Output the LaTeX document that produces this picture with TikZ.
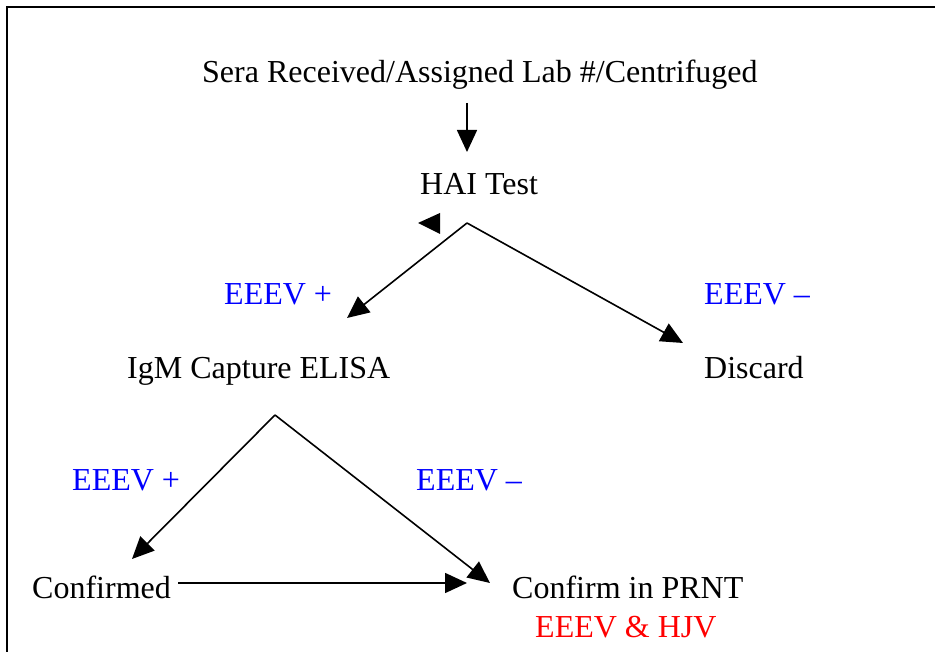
\documentclass[tikz,border=0pt]{standalone}
\usepackage{fontspec}
\setmainfont{Liberation Serif}
\usetikzlibrary{arrows.meta}
\tikzstyle{lbl} = [inner sep=0pt, anchor=base west, font=\fontsize{32}{36}\selectfont]
\tikzstyle{result} = [lbl, color=blue]
\tikzstyle{note} = [lbl, color=red]
\tikzstyle{flow} = [-{Triangle[length=22pt,width=20pt]}, line width=1.6pt]

\begin{document}
\begin{tikzpicture}[x=1pt,y=-1pt]
  \useasboundingbox (0,0) rectangle (935,652);
  \draw[line width=2pt] (7,652) -- (7,7) -- (935,7);
  \node[lbl](sera) at (202,83){Sera Received/Assigned Lab \#/Centrifuged};
  \node[lbl](hai) at (420,195){HAI Test};
  \node[result](haipos) at (224,305){EEEV +};
  \node[result](haineg) at (704,305){EEEV --};
  \node[lbl](igm) at (127,379){IgM Capture ELISA};
  \node[lbl](discard) at (704,379){Discard};
  \node[result](igmpos) at (72,490){EEEV +};
  \node[result](igmneg) at (416,490){EEEV --};
  \node[lbl](confirmed) at (32,598){Confirmed};
  \node[lbl](prnt) at (512,598){Confirm in PRNT};
  \node[note](virus) at (535,637){EEEV \& HJV};
  \coordinate (seraout) at (467,103);
  \coordinate (haiin) at (467,152);
  \coordinate (split1) at (467,223);
  \coordinate (igmin) at (347,318);
  \coordinate (discardin) at (683,343);
  \coordinate (split2) at (275,415);
  \coordinate (confirmedin) at (132,559);
  \coordinate (confirmedout) at (178,583);
  \coordinate (prntin) at (490,583);
  \coordinate (prntleft) at (467,583);
  \draw[flow](seraout)--(haiin);
  \fill (418,223) -- (440,213) -- (440,234) -- cycle;
  \draw[flow](split1)--(igmin);
  \draw[flow](split1)--(discardin);
  \draw[flow](split2)--(confirmedin);
  \draw[flow](split2)--(prntin);
  \draw[flow](confirmedout)--(prntleft);
\end{tikzpicture}
\end{document}
